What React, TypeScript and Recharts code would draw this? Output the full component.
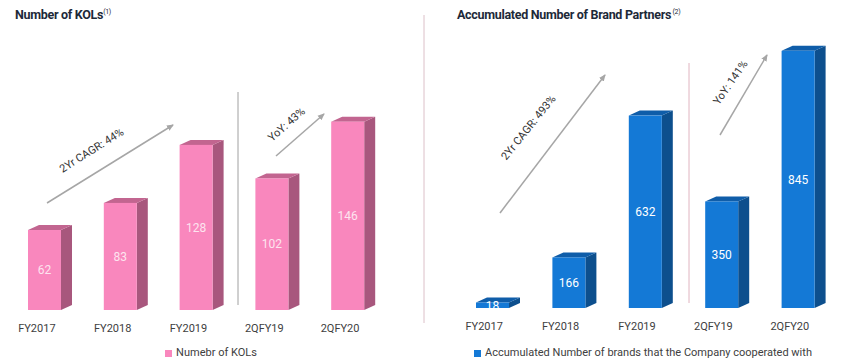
import React from "react";
import { Bar, BarChart, LabelList, Legend, XAxis, YAxis } from "recharts";

const categories = ["FY2017", "FY2018", "FY2019", "2QFY19", "2QFY20"];
const kolValues = [62, 83, 128, 102, 146];
const brandValues = [18, 166, 632, 350, 845];

const FONT = "Roboto, 'Noto Sans', sans-serif";

type Palette = { front: string; side: string; top: string; label: string };

const PINK: Palette = { front: "#f987bd", side: "#a8577d", top: "#c26590", label: "#fde4ef" };
const BLUE: Palette = { front: "#1479d6", side: "#0d4f8d", top: "#0f5da9", label: "#ffffff" };

// fake 3d depth of each bar
const DEPTH_X = 11;
const DEPTH_Y = 5;

const makePrism = (p: Palette) => (props: any) => {
  const { x, y, width, height } = props;
  if (height == null || width == null) return null;
  const r = x + width;
  const b = y + height;
  return (
    <g>
      <polygon
        points={`${r},${y} ${r + DEPTH_X},${y - DEPTH_Y} ${r + DEPTH_X},${b - DEPTH_Y} ${r},${b}`}
        fill={p.side}
      />
      <polygon
        points={`${x},${y} ${x + DEPTH_X},${y - DEPTH_Y} ${r + DEPTH_X},${y - DEPTH_Y} ${r},${y}`}
        fill={p.top}
      />
      <rect x={x} y={y} width={width} height={height} fill={p.front} />
    </g>
  );
};

const CategoryTick = (props: any) => {
  const { x, y, payload } = props;
  return (
    <text x={x - 8} y={y} dy={14} textAnchor="middle" fontSize={11} fill="#404040" fontFamily={FONT}>
      {payload.value}
    </text>
  );
};

type PanelProps = {
  values: number[];
  palette: Palette;
  domainMax: number;
  margin: { top: number; right: number; bottom: number; left: number };
  legendLabel: string;
};

const Panel = ({ values, palette, domainMax, margin, legendLabel }: PanelProps) => {
  const data = categories.map((category, i) => ({ category, value: values[i] }));
  return (
    <BarChart width={432} height={362} data={data} margin={margin}>
      <XAxis
        dataKey="category"
        axisLine={false}
        tickLine={false}
        height={30}
        interval={0}
        tick={<CategoryTick />}
      />
      <YAxis hide domain={[0, domainMax]} />
      <Legend
        verticalAlign="middle"
        align="center"
        iconType="square"
        iconSize={7}
        wrapperStyle={{ top: 346, left: 0, width: 432, fontFamily: FONT, fontSize: 11, lineHeight: "14px" }}
        formatter={(value) => <span style={{ color: "#404040", fontSize: 11 }}>{value}</span>}
      />
      <Bar
        dataKey="value"
        name={legendLabel}
        fill={palette.front}
        barSize={33}
        shape={makePrism(palette)}
        isAnimationActive={false}
      >
        <LabelList dataKey="value" position="center" fill={palette.label} fontSize={12} fontFamily={FONT} />
      </Bar>
    </BarChart>
  );
};

const Arrow = ({ x1, y1, x2, y2 }: { x1: number; y1: number; x2: number; y2: number }) => (
  <line x1={x1} y1={y1} x2={x2} y2={y2} stroke="#a6a6a6" strokeWidth={1.5} markerEnd="url(#arrowHead)" />
);

const Note = ({ x, y, angle, text }: { x: number; y: number; angle: number; text: string }) => (
  <text
    x={x}
    y={y}
    textAnchor="middle"
    dominantBaseline="middle"
    fontSize={11}
    fill="#333"
    fontFamily={FONT}
    transform={`rotate(${angle} ${x} ${y})`}
  >
    {text}
  </text>
);

export default function App() {
  return (
    <div
      style={{
        position: "fixed",
        left: 0,
        top: 0,
        width: 864,
        height: 362,
        background: "#fff",
        fontFamily: FONT,
        overflow: "hidden",
      }}
    >
      <div style={{ position: "absolute", left: 0, top: 0 }}>
        <Panel
          values={kolValues}
          palette={PINK}
          domainMax={200}
          margin={{ top: 52, right: 46, bottom: 22, left: 7 }}
          legendLabel="Numebr of KOLs"
        />
      </div>
      <div style={{ position: "absolute", left: 432, top: 0 }}>
        <Panel
          values={brandValues}
          palette={BLUE}
          domainMax={900}
          margin={{ top: 34, right: 28, bottom: 24, left: 22 }}
          legendLabel="Accumulated Number of brands that the Company cooperated with"
        />
      </div>
      <svg
        width={864}
        height={362}
        style={{ position: "absolute", left: 0, top: 0, pointerEvents: "none" }}
      >
        <defs>
          <marker id="arrowHead" markerWidth="8" markerHeight="8" refX="6" refY="4" orient="auto" markerUnits="userSpaceOnUse">
            <path d="M0,1 L7,4 L0,7 z" fill="#a6a6a6" />
          </marker>
        </defs>
        <text x={15} y={19} fontSize={12.5} fontWeight={700} fill="#1d2939" fontFamily={FONT} letterSpacing={-0.3}>
          Number of KOLs
          <tspan fontSize={7} dy={-5} fontWeight={400}>(1)</tspan>
        </text>
        <text x={457} y={19} fontSize={12.5} fontWeight={700} fill="#1d2939" fontFamily={FONT} letterSpacing={-0.3}>
          Accumulated Number of Brand Partners
          <tspan fontSize={7} dy={-5} fontWeight={400}> (2)</tspan>
        </text>

        <line x1={424} y1={15} x2={424} y2={323} stroke="#dcc0c8" strokeWidth={1} />
        <line x1={238} y1={92} x2={238} y2={305} stroke="#a0a0a0" strokeWidth={1} />
        <line x1={689} y1={63} x2={689} y2={303} stroke="#e0b4c0" strokeWidth={1} />

        <Arrow x1={47} y1={203} x2={173} y2={125} />
        <Note x={92} y={151} angle={-32} text="2Yr CAGR: 44%" />
        <Arrow x1={276} y1={156} x2={324} y2={114} />
        <Note x={287} y={125} angle={-41} text="YoY: 43%" />

        <Arrow x1={500} y1={213} x2={605} y2={75} />
        <Note x={529} y={128} angle={-51} text="2Yr CAGR: 493%" />
        <Arrow x1={720} y1={135} x2={767} y2={55} />
        <Note x={731} y={83} angle={-55} text="YoY: 141%" />
      </svg>
    </div>
  );
}
